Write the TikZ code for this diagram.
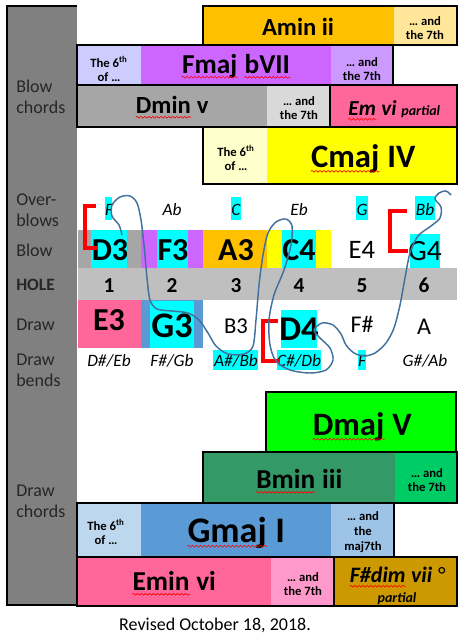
\documentclass[tikz,border=0pt]{standalone}
\usepackage{fontspec}
\setmainfont{Carlito}
\usetikzlibrary{decorations.pathmorphing}

% red spell-check wave under a word
\newcommand\squig[1]{\tikz[baseline=(sq.base)]{\node[inner sep=0pt] (sq) {#1};
  \draw[red, line width=0.45pt, decorate, decoration={snake, amplitude=0.7pt, segment length=3pt}]
    ([yshift=-3.2pt]sq.base west) -- ([yshift=-3.2pt]sq.base east);}}

\definecolor{colgray}{HTML}{808080}
\definecolor{holegray}{HTML}{BFBFBF}
\definecolor{hicyan}{HTML}{00FFFF}
\definecolor{aminorange}{HTML}{FFC000}
\definecolor{aminlight}{HTML}{FFE699}
\definecolor{fmajlight}{HTML}{CCCCFF}
\definecolor{fmajpurple}{HTML}{CC66FF}
\definecolor{fmajlilac}{HTML}{CC99FF}
\definecolor{dmingray}{HTML}{A6A6A6}
\definecolor{dminlight}{HTML}{D9D9D9}
\definecolor{empink}{HTML}{FF6699}
\definecolor{cmajlight}{HTML}{FFFFCC}
\definecolor{cmajyellow}{HTML}{FFFF00}
\definecolor{dmajgreen}{HTML}{00FF00}
\definecolor{bmingreen}{HTML}{339966}
\definecolor{bminlight}{HTML}{00CC66}
\definecolor{gmajlight}{HTML}{BDD7EE}
\definecolor{gmajblue}{HTML}{5B9BD5}
\definecolor{gmajpale}{HTML}{9DC3E6}
\definecolor{eminpink}{HTML}{FF6699}
\definecolor{eminlight}{HTML}{FF99CC}
\definecolor{fdimgold}{HTML}{CC9900}
\definecolor{scribblue}{HTML}{41719C}
\definecolor{spellred}{HTML}{FF0000}

\tikzset{
  chordbox/.style={draw=black, line width=2.2pt},
  bnote/.style={font=\bfseries\fontsize{#1}{#1}\selectfont, anchor=base, inner sep=0pt},
  rnote/.style={font=\fontsize{#1}{#1}\selectfont, anchor=base, inner sep=0pt},
  inote/.style={font=\itshape\fontsize{13}{13}\selectfont, anchor=base, inner sep=0pt},
  extra/.style={font=\bfseries\fontsize{9.5}{11}\selectfont, align=center, inner sep=0pt},
  rowlab/.style={font=\fontsize{13.5}{16}\selectfont, align=left, anchor=west, text=black!85, inner sep=0pt},
  hilite/.style={fill=hicyan},
  redbracket/.style={draw=spellred, line width=3pt},
  scribble/.style={draw=scribblue, line width=1.1pt}
}

\begin{document}
\begin{tikzpicture}[x=0.75pt, y=-0.75pt]
  \useasboundingbox (0,0) rectangle (465,633);

  % Left column
  \fill[colgray] (7,6) rectangle (77,605);
  \draw[line width=1.2pt] (77,6) -- (7,6) -- (7,605) -- (77,605);

  % Row labels
  \node[rowlab] (lblblowch) at (16,97) {Blow\\chords};
  \node[rowlab] (lblover) at (16,210) {Over-\\blows};
  \node[rowlab] (lblblow) at (16,250) {Blow};
  \node[rowlab, font=\bfseries\fontsize{13}{15}\selectfont] (lblhole) at (16,285) {HOLE};
  \node[rowlab] (lbldraw) at (16,325) {Draw};
  \node[rowlab] (lblbends) at (16,370) {Draw\\bends};
  \node[rowlab] (lbldrawch) at (16,501) {Draw\\chords};

  % Blow chords
  \fill[aminorange] (203,6) rectangle (394,45);
  \fill[aminlight] (394,6) rectangle (457,45);
  \draw[chordbox] (203,6) rectangle (457,45);
  \node[bnote=18.5] (amin) at (298,35) {Amin ii};
  \node[extra] (amin7) at (425,28) {… and\\the 7th};

  \fill[fmajlight] (77,45) rectangle (141,85);
  \fill[fmajpurple] (141,45) rectangle (331,85);
  \fill[fmajlilac] (331,45) rectangle (393,85);
  \draw[chordbox] (77,45) rectangle (393,85);
  \node[extra] (fmaj6) at (109,69) {The 6\textsuperscript{th}\\of …};
  \node[bnote=20.5] (fmaj) at (236,73) {\squig{Fmaj} \squig{bVII}};
  \node[extra] (fmaj7) at (362,69) {… and\\the 7th};

  \fill[dmingray] (77,85) rectangle (267,127);
  \fill[dminlight] (267,85) rectangle (330,127);
  \draw[chordbox] (77,85) rectangle (330,127);
  \node[bnote=18.5] (dmin) at (172,113) {\squig{Dmin} v};
  \node[extra] (dmin7) at (299,108) {… and\\the 7th};

  \fill[empink] (330,85) rectangle (457,127);
  \draw[chordbox] (330,85) rectangle (457,127);
  \node[bnote=16] (emvi) at (394,115) {\itshape\squig{Em} vi {\fontsize{10.5}{10.5}\selectfont partial}};

  \fill[cmajlight] (203,127) rectangle (267,184);
  \fill[cmajyellow] (267,127) rectangle (457,184);
  \draw[chordbox] (203,127) rectangle (457,184);
  \node[extra] (cmaj6) at (236,158) {The 6\textsuperscript{th}\\of …};
  \node[bnote=24.5] (cmaj) at (363,167) {\squig{Cmaj} IV};

  % Blow row colours and highlights
  \fill[dmingray] (78,230) rectangle (141,268);
  \fill[fmajpurple] (141,230) rectangle (203,268);
  \fill[aminorange] (203,230) rectangle (267,268);
  \fill[cmajyellow] (267,230) rectangle (331,268);
  \fill[hilite] (91,230) rectangle (127,268);
  \fill[hilite] (157,230) rectangle (188,268);
  \fill[hilite] (282,230) rectangle (316,268);
  \fill[hilite] (410,234) rectangle (440,268);
  \fill[hilite] (105,197) rectangle (112,220);
  \fill[hilite] (231,197) rectangle (241,220);
  \fill[hilite] (356,196) rectangle (368,220);
  \fill[hilite] (415,196) rectangle (435,220);

  % Hole row
  \fill[holegray] (78,268) rectangle (457,300);

  % Draw row colours and highlights
  \fill[eminpink] (78,300) rectangle (141,348);
  \fill[gmajblue] (141,300) rectangle (203,348);
  \fill[hilite] (150,301) rectangle (194,348);
  \fill[hilite] (281,310) rectangle (317,348);
  \fill[hilite] (213,350) rectangle (258,370);
  \fill[hilite] (277,350) rectangle (321,370);
  \fill[hilite] (358,350) rectangle (366,370);

  % Overblows
  \node[inote] (ob1) at (109,215) {F};
  \node[inote] (ob2) at (172,215) {Ab};
  \node[inote] (ob3) at (236,215) {C};
  \node[inote] (ob4) at (299,215) {Eb};
  \node[inote] (ob5) at (362,215) {G};
  \node[inote] (ob6) at (425,215) {Bb};

  % Blow notes
  \node[bnote=24] (blow1) at (110,260) {D3};
  \node[bnote=24] (blow2) at (173,260) {F3};
  \node[bnote=24] (blow3) at (236,260) {A3};
  \node[bnote=24] (blow4) at (299,260) {C4};
  \node[rnote=20] (blow5) at (362,258) {E4};
  \node[rnote=22] (blow6) at (425,260) {G4};

  % Hole numbers
  \foreach \n/\x in {1/109, 2/172, 3/236, 4/299, 5/362, 6/424}
    \node[bnote=16] (hole\n) at (\x,292) {\n};

  % Draw notes
  \node[bnote=24] (draw1) at (109,330) {E3};
  \node[bnote=27] (draw2) at (172,337) {G3};
  \node[rnote=17] (draw3) at (236,333) {B3};
  \node[bnote=26] (draw4) at (299,340) {D4};
  \node[rnote=18] (draw5) at (362,332) {F\#};
  \node[rnote=18] (draw6) at (424,334) {A};

  % Draw bends
  \node[inote] (bend1) at (109,366) {D\#/Eb};
  \node[inote] (bend2) at (172,366) {F\#/Gb};
  \node[inote] (bend3) at (236,366) {A\#/Bb};
  \node[inote] (bend4) at (299,366) {C\#/Db};
  \node[inote] (bend5) at (362,366) {F};
  \node[inote] (bend6) at (425,366) {G\#/Ab};

  % Brackets
  \draw[redbracket] (96,206) -- (85,206) -- (85,248) -- (98,248);
  \draw[redbracket] (407,211) -- (390,211) -- (390,251) -- (408,251);
  \draw[redbracket] (278,321) -- (263,321) -- (263,361) -- (280,361);

  % Scribble through the highlighted notes
  \draw[scribble] plot[smooth, tension=0.5] coordinates {
    (122,235) (119,225) (112,216) (112,205) (120,197) (130,196) (137,203)
    (141,220) (144,245) (147,278) (150,300) (157,309) (172,311) (188,313)
    (199,320) (208,333) (216,346) (228,354) (244,354) (253,346) (256,320)
    (259,285) (263,255) (268,233) (276,222) (286,219) (292,226) (291,245)
    (284,270) (274,295) (269,320) (270,345) (276,361) (290,370) (310,373)
    (326,370) (333,360) (330,348) (320,338) (314,330) (322,323) (333,325)
    (341,334) (346,345) (354,353) (364,356) (375,353) (386,343) (394,328)
    (400,305) (405,278) (410,253) (418,236) (431,226) (440,218) (441,207)
    (435,199) (439,193) (446,191) (451,195)};

  % Draw chords
  \fill[dmajgreen] (266,392) rectangle (456,452);
  \draw[chordbox] (266,392) rectangle (456,452);
  \node[bnote=24.5] (dmaj) at (362,435) {\squig{Dmaj} V};

  \fill[bmingreen] (203,452) rectangle (395,503);
  \fill[bminlight] (395,452) rectangle (457,503);
  \draw[chordbox] (203,452) rectangle (457,503);
  \node[bnote=20.5] (bmin) at (299,488) {\squig{Bmin} iii};
  \node[extra] (bmin7) at (427,480) {… and\\the 7th};

  \fill[gmajlight] (77,503) rectangle (141,557);
  \fill[gmajblue] (141,503) rectangle (331,557);
  \fill[gmajpale] (331,503) rectangle (394,557);
  \draw[chordbox] (77,503) rectangle (394,557);
  \node[extra] (gmaj6) at (106,532) {The 6\textsuperscript{th}\\of …};
  \node[bnote=27] (gmaj) at (236,542) {\squig{Gmaj} I};
  \node[extra] (gmaj7) at (363,532) {… and\\the\\maj7th};

  \fill[eminpink] (77,557) rectangle (271,606);
  \fill[eminlight] (271,557) rectangle (334,606);
  \draw[chordbox] (77,557) rectangle (334,606);
  \node[bnote=20.5] (emin) at (174,590) {\squig{Emin} vi};
  \node[extra] (emin7) at (303,584) {… and\\the 7th};

  \fill[fdimgold] (334,557) rectangle (457,606);
  \draw[chordbox] (334,557) rectangle (457,606);
  \node[bnote=16.5] (fdim) at (397,582) {\itshape\squig{F\#dim} vii {\mdseries °}};
  \node[bnote=10.5] (fdimp) at (397,602) {\itshape partial};

  \node[rnote=13.5] (revised) at (215,630) {Revised October 18, 2018.};
\end{tikzpicture}
\end{document}
